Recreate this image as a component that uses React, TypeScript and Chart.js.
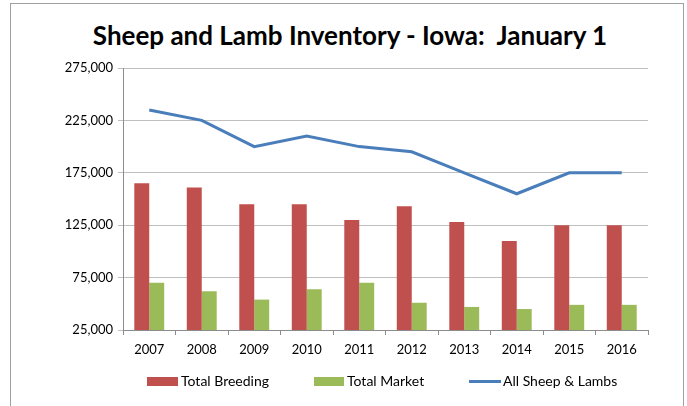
import React, { useEffect, useRef } from "react";
import { Chart, registerables } from "chart.js";

Chart.register(...registerables);

const years = ["2007", "2008", "2009", "2010", "2011", "2012", "2013", "2014", "2015", "2016"];
const totalBreeding = [165000, 161000, 145000, 145000, 130000, 143000, 128000, 110000, 125000, 125000];
const totalMarket = [70000, 62000, 54000, 64000, 70000, 51000, 47000, 45000, 49000, 49000];
const allSheepLambs = [235000, 225000, 200000, 210000, 200000, 195000, 175000, 155000, 175000, 175000];
const yTicks = [25000, 75000, 125000, 175000, 225000, 275000];

const RED = "#C0504D";
const GREEN = "#9BBB59";
const BLUE = "#4A7EBB";
const FONT = "Lato, 'Open Sans', sans-serif";

export default function App() {
  const ref = useRef<HTMLCanvasElement | null>(null);

  useEffect(() => {
    if (!ref.current) return;
    const chart = new Chart(ref.current, {
      type: "bar",
      data: {
        labels: years,
        datasets: [
          {
            type: "line",
            label: "All Sheep & Lambs",
            data: allSheepLambs,
            borderColor: BLUE,
            backgroundColor: BLUE,
            borderWidth: 3,
            pointRadius: 0,
            tension: 0,
            order: 0,
          } as any,
          {
            label: "Total Breeding",
            data: totalBreeding,
            backgroundColor: RED,
            categoryPercentage: 0.57,
            barPercentage: 1.0,
            order: 1,
          },
          {
            label: "Total Market",
            data: totalMarket,
            backgroundColor: GREEN,
            categoryPercentage: 0.57,
            barPercentage: 1.0,
            order: 1,
          },
        ],
      },
      options: {
        animation: false,
        responsive: false,
        maintainAspectRatio: false,
        layout: { padding: { left: 0, right: 39, top: 68, bottom: 46 } },
        plugins: {
          legend: { display: false },
          title: { display: false },
          tooltip: { enabled: false },
        },
        scales: {
          x: {
            offset: true,
            grid: {
              offset: true,
              drawOnChartArea: false,
              drawTicks: true,
              tickLength: 5,
              color: "#8C8C8C",
            },
            border: { display: true, color: "#8C8C8C" },
            ticks: {
              color: "#000",
              font: { family: FONT, size: 13 },
              padding: 7,
              maxRotation: 0,
            },
            afterFit: (s: any) => {
              s.height = 30;
            },
          },
          y: {
            min: 25000,
            max: 275000,
            afterBuildTicks: (s: any) => {
              s.ticks = yTicks.map((v) => ({ value: v }));
            },
            grid: {
              color: "#BFBFBF",
              tickLength: 5,
              lineWidth: 1,
            },
            border: { display: true, color: "#8C8C8C" },
            ticks: {
              color: "#000",
              font: { family: FONT, size: 13 },
              padding: 5,
              callback: (v: any) => Number(v).toLocaleString("en-US"),
            },
            afterFit: (s: any) => {
              s.width = 123;
            },
          },
        },
      },
    });
    return () => chart.destroy();
  }, []);

  const legendText: React.CSSProperties = {
    position: "absolute",
    top: 373,
    fontFamily: FONT,
    fontSize: 14,
    color: "#000",
    lineHeight: "16px",
    whiteSpace: "pre",
  };

  return (
    <div
      style={{
        position: "fixed",
        left: 0,
        top: 0,
        width: 687,
        height: 406,
        overflow: "hidden",
        background: "#fff",
      }}
    >
      <div
        style={{
          position: "absolute",
          left: 10,
          top: 3,
          width: 674,
          height: 420,
          border: "1px solid #A0A0A0",
          boxSizing: "border-box",
        }}
      />
      <div
        style={{
          position: "absolute",
          left: 0,
          width: 700,
          top: 20,
          textAlign: "center",
          fontFamily: FONT,
          fontWeight: 700,
          fontSize: 26,
          lineHeight: "30px",
          color: "#000",
          whiteSpace: "pre",
        }}
      >
        {"Sheep and Lamb Inventory - Iowa:  January 1"}
      </div>
      <canvas
        ref={ref}
        width={687}
        height={406}
        style={{ position: "absolute", left: 0, top: 0, width: 687, height: 406 }}
      />
      <div style={{ position: "absolute", left: 147, top: 377, width: 31, height: 9, background: RED }} />
      <div style={{ ...legendText, left: 181 }}>Total Breeding</div>
      <div style={{ position: "absolute", left: 314, top: 377, width: 30, height: 9, background: GREEN }} />
      <div style={{ ...legendText, left: 347 }}>Total Market</div>
      <div style={{ position: "absolute", left: 469, top: 380, width: 32, height: 3, background: BLUE }} />
      <div style={{ ...legendText, left: 503 }}>All Sheep &amp; Lambs</div>
    </div>
  );
}
